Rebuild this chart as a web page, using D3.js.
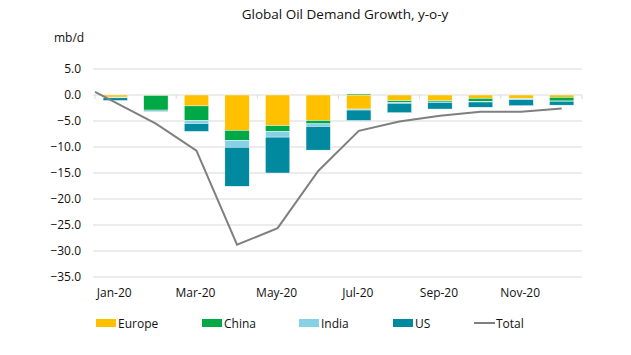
<!DOCTYPE html>
<html><head><meta charset="utf-8">
<script src="https://cdn.jsdelivr.net/npm/d3@7/dist/d3.min.js"></script>
<style>body{margin:0;background:#fff}svg{display:block;font-family:"Open Sans",sans-serif}</style>
</head><body><svg id="c" width="631" height="355"></svg>
<script>
const months = ["Jan-20","Feb-20","Mar-20","Apr-20","May-20","Jun-20","Jul-20","Aug-20","Sep-20","Oct-20","Nov-20","Dec-20"];
const europe = [-0.4,-0.1,-2.1,-6.8,-5.9,-4.9,-2.7,-1.1,-1.1,-0.65,-0.65,-0.45];
const china  = [-0.1,-2.8,-2.8,-1.9,-1.1,-0.65,0.2,-0.3,-0.25,-0.6,-0.05,-0.7];
const india  = [-0.05,-0.05,-0.6,-1.35,-1.1,-0.5,-0.2,-0.2,-0.1,-0.1,-0.2,-0.05];
const us     = [-0.5,-0.2,-1.5,-7.5,-6.9,-4.55,-2.0,-1.8,-1.25,-1.0,-1.15,-0.75];
const total  = [0.6,-5.5,-10.7,-28.8,-25.6,-14.6,-6.9,-5.1,-4.0,-3.2,-3.2,-2.6];
const yTicks = [5,0,-5,-10,-15,-20,-25,-30,-35];
const xLabels = ["Jan-20","Mar-20","May-20","Jul-20","Sep-20","Nov-20"];
const seriesNames = ["Europe","China","India","US"];
const colors = {Europe:"#FFC000",China:"#00A846",India:"#87D1E6",US:"#00899F"};

const svg = d3.select("#c");
const x = d3.scaleBand().domain(months).range([95,582]).paddingInner(0.4).paddingOuter(0.2);
const y = d3.scaleLinear().domain([-35,5]).range([277,69]);

svg.append("text").attr("x",345).attr("y",19).attr("text-anchor","middle")
  .attr("font-size",13.5).attr("fill","#111").text("Global Oil Demand Growth, y-o-y");
svg.append("text").attr("x",54).attr("y",42).attr("font-size",12).attr("fill","#111").text("mb/d");

// grid
svg.append("g").selectAll("line").data(yTicks).join("line")
  .attr("x1",93).attr("x2",582).attr("y1",d=>y(d)).attr("y2",d=>y(d))
  .attr("stroke","#D9D9D9").attr("stroke-width",1);
svg.append("g").selectAll("text").data(yTicks).join("text")
  .attr("x",81).attr("y",d=>y(d)+4).attr("text-anchor","end").attr("font-size",12).attr("fill","#111")
  .text(d=>d3.format(".1f")(d));

// stacked bars (diverging)
const rows = months.map((m,i)=>({m,Europe:europe[i],China:china[i],India:india[i],US:us[i]}));
const stack = d3.stack().keys(seriesNames).offset(d3.stackOffsetDiverging)(rows);
svg.append("g").selectAll("g").data(stack).join("g").attr("fill",d=>colors[d.key])
  .selectAll("rect").data(d=>d).join("rect")
  .attr("x",d=>x(d.data.m)).attr("width",x.bandwidth())
  .attr("y",d=>y(Math.max(d[0],d[1]))).attr("height",d=>Math.abs(y(d[0])-y(d[1])))
  .attr("stroke","#fff").attr("stroke-width",0.4);

// x axis ticks every two months
const step = x.step();
const tickPos = d3.range(0,13,2).map(i=>x.range()[0]+i*step);
svg.append("g").selectAll("line").data(tickPos).join("line")
  .attr("x1",d=>d).attr("x2",d=>d).attr("y1",y(0)).attr("y2",y(0)+4)
  .attr("stroke","#D9D9D9");
svg.append("g").selectAll("text").data(xLabels).join("text")
  .attr("x",d=>x(d)+x.bandwidth()/2-1).attr("y",297).attr("text-anchor","middle")
  .attr("font-size",12).attr("fill","#111").text(d=>d);

// total line
const pts = months.map((m,i)=>[i===0 ? x.range()[0] : x(m)+x.bandwidth()/2, y(total[i])]);
svg.append("path").attr("d",d3.line()(pts)).attr("fill","none")
  .attr("stroke","#7F7F7F").attr("stroke-width",2);

// legend
const legX = [96,202,299,393];
const lg = svg.append("g");
seriesNames.forEach((s,i)=>{
  lg.append("rect").attr("x",legX[i]).attr("y",319).attr("width",20).attr("height",8).attr("fill",colors[s]);
  lg.append("text").attr("x",legX[i]+22).attr("y",327.5).attr("font-size",12).attr("fill","#111").text(s);
});
lg.append("line").attr("x1",474).attr("x2",495).attr("y1",323).attr("y2",323).attr("stroke","#7F7F7F").attr("stroke-width",2);
lg.append("text").attr("x",496).attr("y",327.5).attr("font-size",12).attr("fill","#111").text("Total");
</script></body></html>
